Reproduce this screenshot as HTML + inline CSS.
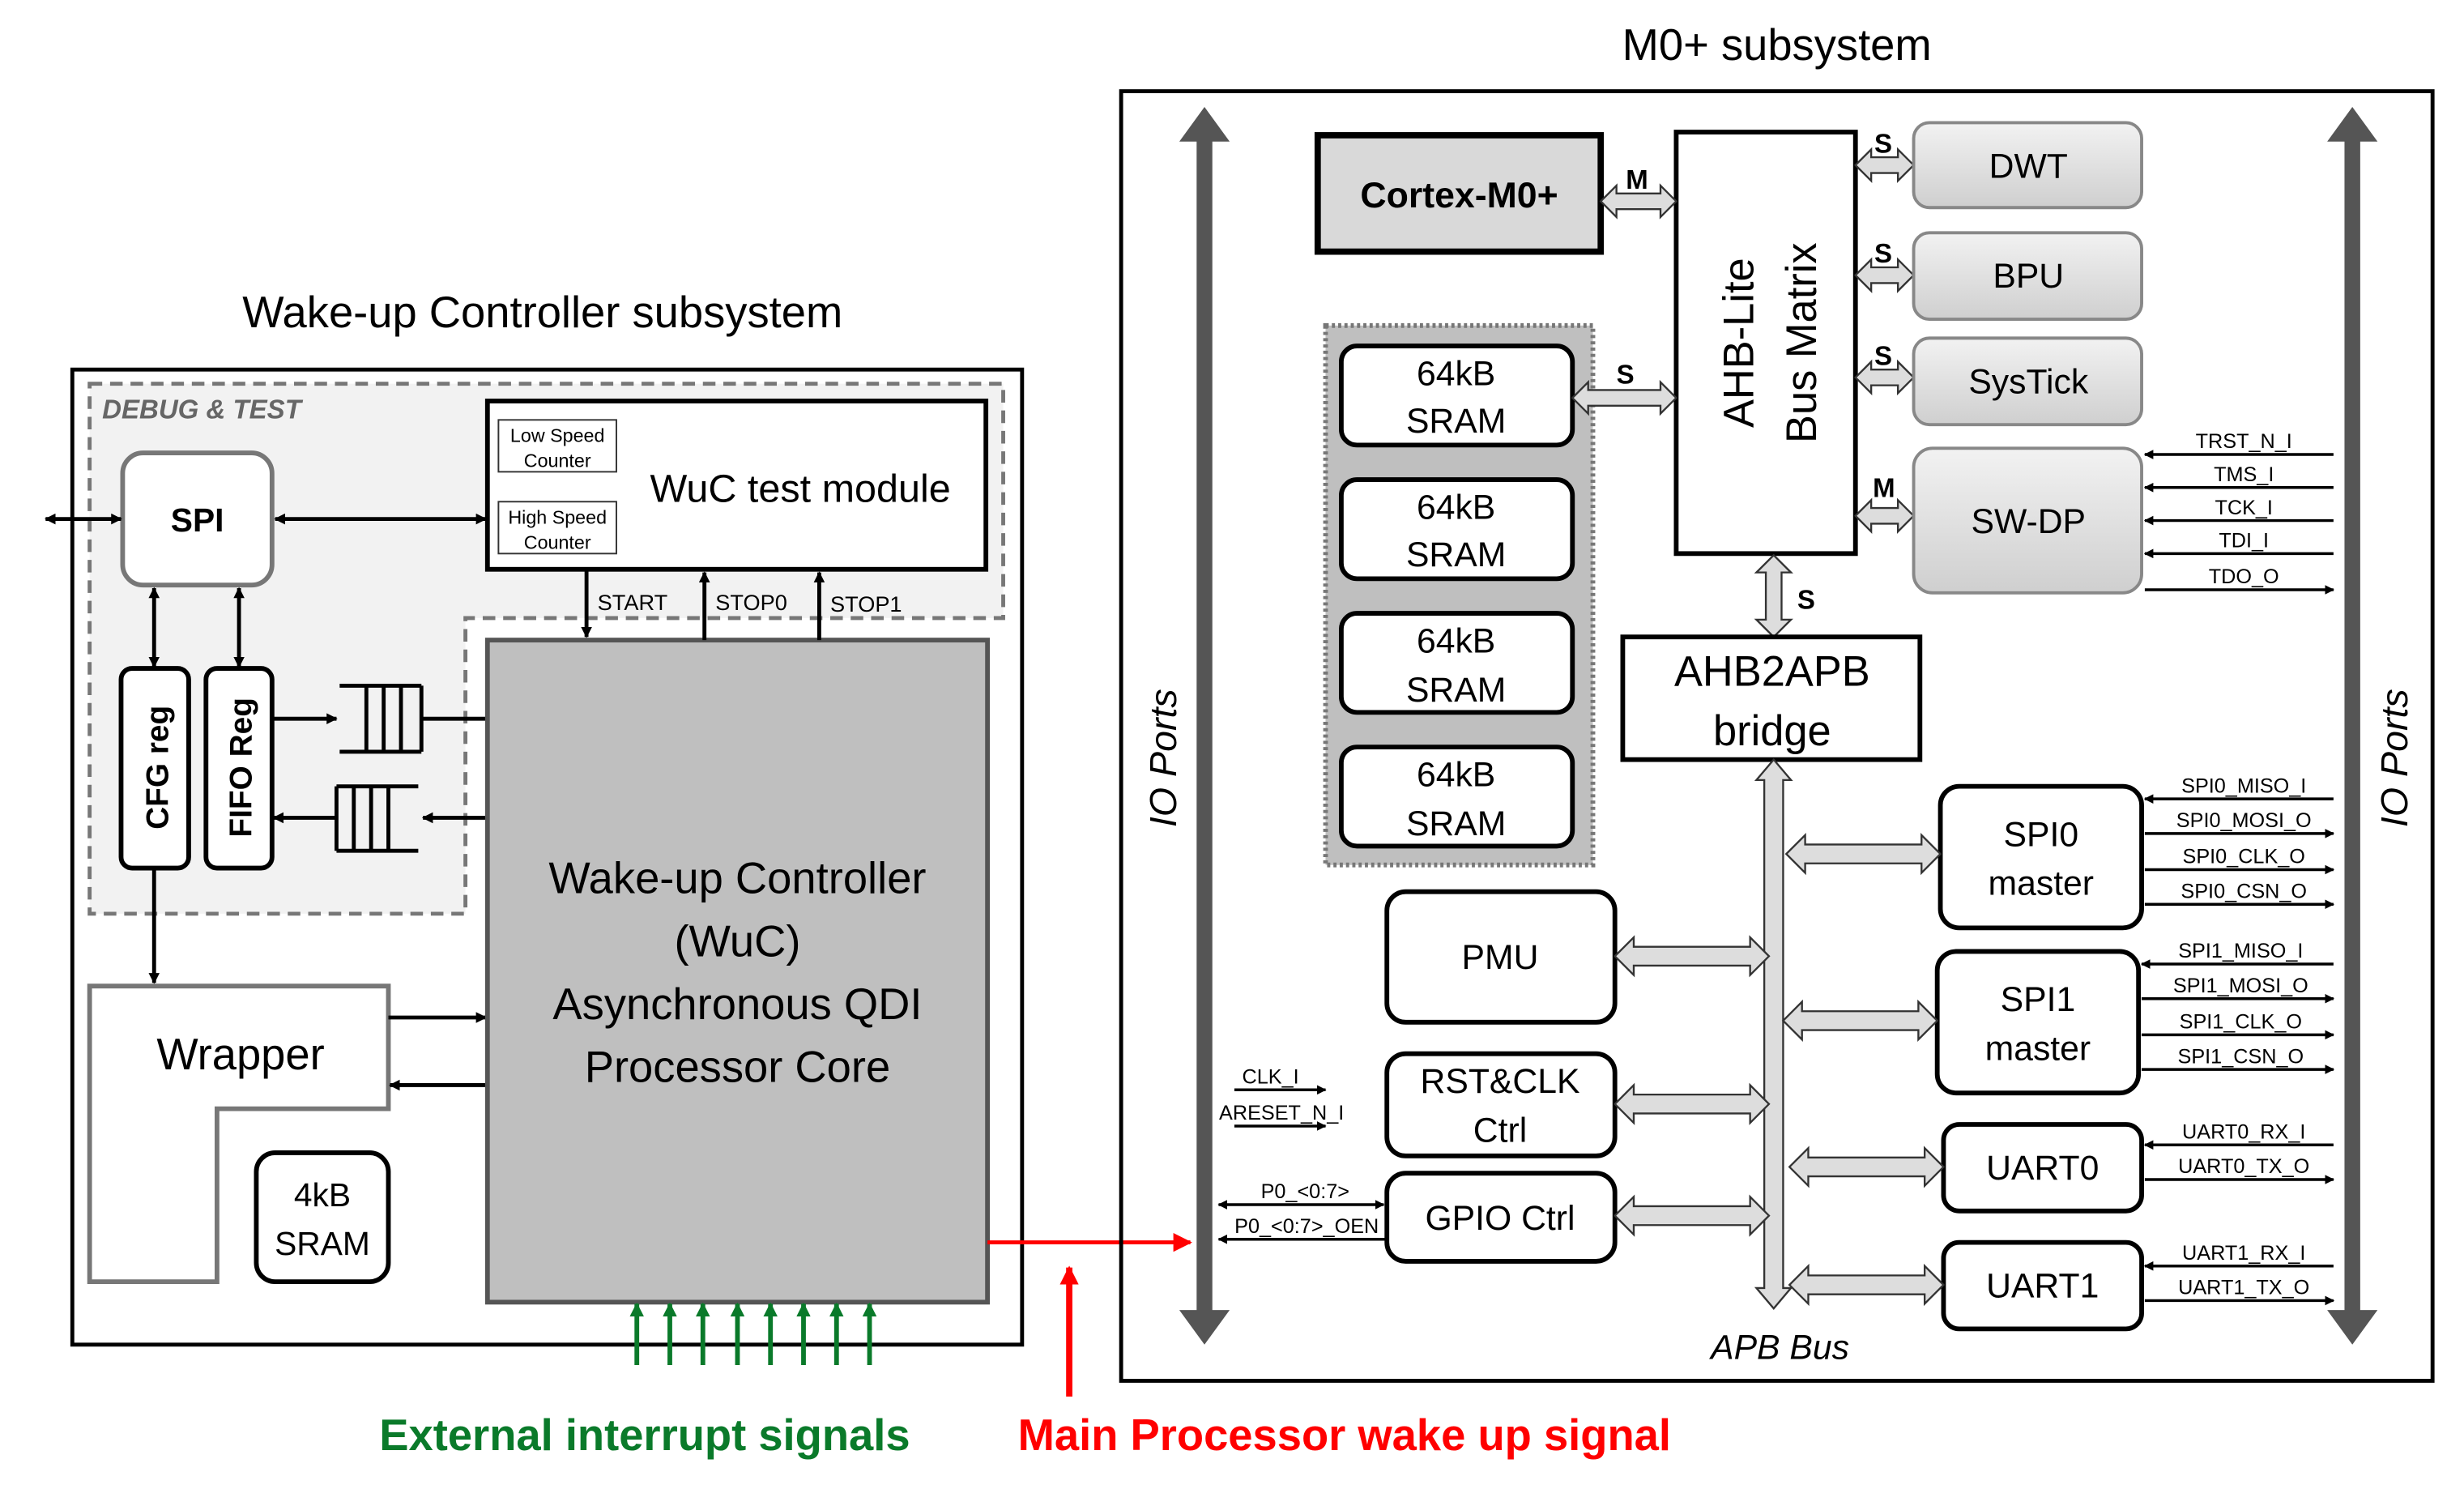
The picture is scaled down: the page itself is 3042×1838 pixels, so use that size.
<!DOCTYPE html>
<html><head><meta charset="utf-8"><style>
html,body{margin:0;padding:0;background:#fff;width:3042px;height:1838px;overflow:hidden}
svg{display:block}
text{font-family:"Liberation Sans",sans-serif}
</style></head><body>
<svg width="3042" height="1838" viewBox="0 0 1567 946.8" preserveAspectRatio="none" xmlns="http://www.w3.org/2000/svg">
<defs>
<marker id="ah" viewBox="0 0 10 10" refX="9" refY="5" markerWidth="7" markerHeight="7" markerUnits="userSpaceOnUse" orient="auto-start-reverse"><path d="M0,0 L10,5 L0,10 z" fill="#000"/></marker>
<marker id="ahs" viewBox="0 0 10 10" refX="9" refY="5" markerWidth="6" markerHeight="6" markerUnits="userSpaceOnUse" orient="auto-start-reverse"><path d="M0,0 L10,5 L0,10 z" fill="#000"/></marker>
<marker id="ahg" viewBox="0 0 10 10" refX="9" refY="5" markerWidth="9" markerHeight="9" markerUnits="userSpaceOnUse" orient="auto"><path d="M0,0 L10,5 L0,10 z" fill="#0a7a2a"/></marker>
<marker id="ahr" viewBox="0 0 10 10" refX="9" refY="5" markerWidth="12" markerHeight="12" markerUnits="userSpaceOnUse" orient="auto"><path d="M0,0 L10,5 L0,10 z" fill="#f00"/></marker>
<linearGradient id="gg" x1="0" y1="0" x2="0" y2="1"><stop offset="0" stop-color="#f2f2f2"/><stop offset="1" stop-color="#cfcfcf"/></linearGradient>
<polygon id="h37" points="0,0 10,-10 10,-5 27,-5 27,-10 37,0 27,10 27,5 10,5 10,10" fill="#ddd" stroke="#333" stroke-width="1.2"/>
<polygon id="h48" points="0,0 10,-10 10,-5 38,-5 38,-10 48,0 38,10 38,5 10,5 10,10" fill="#ddd" stroke="#333" stroke-width="1.2"/>
<polygon id="h66" points="0,0 10,-10 10,-5 56,-5 56,-10 66,0 56,10 56,5 10,5 10,10" fill="#ddd" stroke="#333" stroke-width="1.2"/>
<polygon id="h98" points="0,0 12,-12 12,-6 86,-6 86,-12 98,0 86,12 86,6 12,6 12,12" fill="#ddd" stroke="#333" stroke-width="1.2"/>
</defs>

<!-- LEFT -->
<text x="345" y="208" font-size="28" text-anchor="middle">Wake-up Controller subsystem</text>
<rect x="46" y="235" width="604" height="620" fill="none" stroke="#000" stroke-width="2.5"/>
<polygon points="57,244 638,244 638,393 296,393 296,581 57,581" fill="#f2f2f2" stroke="#777" stroke-width="2.5" stroke-dasharray="8,5"/>
<text x="65" y="266" font-size="17" font-style="italic" font-weight="bold" fill="#666">DEBUG &amp; TEST</text>
<rect x="310" y="255" width="317" height="107" fill="#fff" stroke="#000" stroke-width="3"/>
<rect x="317" y="267" width="75" height="33" fill="#fff" stroke="#333" stroke-width="1"/>
<text x="354.5" y="281" font-size="12" text-anchor="middle">Low Speed</text><text x="354.5" y="297" font-size="12" text-anchor="middle">Counter</text>
<rect x="317" y="319" width="75" height="33" fill="#fff" stroke="#333" stroke-width="1"/>
<text x="354.5" y="333" font-size="12" text-anchor="middle">High Speed</text><text x="354.5" y="349" font-size="12" text-anchor="middle">Counter</text>
<text x="509" y="319" font-size="25" text-anchor="middle">WuC test module</text>
<rect x="78" y="288" width="95" height="84" rx="13" fill="#fff" stroke="#777" stroke-width="3"/>
<text x="125.5" y="338" font-size="21" font-weight="bold" text-anchor="middle">SPI</text>
<line x1="29" y1="330" x2="77" y2="330" stroke="#000" stroke-width="2.5" marker-start="url(#ah)" marker-end="url(#ah)"/>
<line x1="175" y1="330" x2="309" y2="330" stroke="#000" stroke-width="2.5" marker-start="url(#ah)" marker-end="url(#ah)"/>
<line x1="98" y1="374" x2="98" y2="424" stroke="#000" stroke-width="2.5" marker-start="url(#ah)" marker-end="url(#ah)"/>
<line x1="152" y1="374" x2="152" y2="424" stroke="#000" stroke-width="2.5" marker-start="url(#ah)" marker-end="url(#ah)"/>
<rect x="77" y="425" width="43" height="127" rx="7" fill="#fff" stroke="#000" stroke-width="3"/>
<text transform="translate(107,488) rotate(-90)" font-size="20" font-weight="bold" text-anchor="middle">CFG reg</text>
<rect x="131" y="425" width="42" height="127" rx="7" fill="#fff" stroke="#000" stroke-width="3"/>
<text transform="translate(160,488) rotate(-90)" font-size="20" font-weight="bold" text-anchor="middle">FIFO Reg</text>
<g stroke="#000" stroke-width="2.5" fill="none">
<path d="M216,436 H268 M216,478 H268 M233,436 V478 M244,436 V478 M255,436 V478 M268,436 V478"/>
<path d="M214,500 H266 M214,541 H266 M214,500 V541 M225,500 V541 M236,500 V541 M247,500 V541"/>
</g>
<line x1="173" y1="457" x2="214" y2="457" stroke="#000" stroke-width="2.5" marker-end="url(#ah)"/>
<line x1="268" y1="457" x2="330" y2="457" stroke="#000" stroke-width="2.5" marker-end="url(#ah)"/>
<line x1="330" y1="520" x2="269" y2="520" stroke="#000" stroke-width="2.5" marker-end="url(#ah)"/>
<line x1="214" y1="520" x2="174" y2="520" stroke="#000" stroke-width="2.5" marker-end="url(#ah)"/>
<line x1="98" y1="552" x2="98" y2="625" stroke="#000" stroke-width="2.5" marker-end="url(#ah)"/>
<polygon points="57,627 247,627 247,705 138,705 138,815 57,815" fill="#fff" stroke="#777" stroke-width="3"/>
<text x="153" y="680" font-size="28" text-anchor="middle">Wrapper</text>
<line x1="247" y1="647" x2="309" y2="647" stroke="#000" stroke-width="2.5" marker-end="url(#ah)"/>
<line x1="310" y1="690" x2="248" y2="690" stroke="#000" stroke-width="2.5" marker-end="url(#ah)"/>
<rect x="163" y="733" width="84" height="82" rx="12" fill="#fff" stroke="#000" stroke-width="3"/>
<text x="205" y="767" font-size="21" text-anchor="middle">4kB</text><text x="205" y="798" font-size="21" text-anchor="middle">SRAM</text>
<rect x="310" y="407" width="318" height="421" fill="#bfbfbf" stroke="#555" stroke-width="3"/>
<g font-size="28" text-anchor="middle"><text x="469" y="568">Wake-up Controller</text><text x="469" y="608">(WuC)</text><text x="469" y="648">Asynchronous QDI</text><text x="469" y="688">Processor Core</text></g>
<line x1="373" y1="362" x2="373" y2="405" stroke="#000" stroke-width="2.5" marker-end="url(#ah)"/>
<line x1="448" y1="407" x2="448" y2="364" stroke="#000" stroke-width="2.5" marker-end="url(#ah)"/>
<line x1="521" y1="407" x2="521" y2="364" stroke="#000" stroke-width="2.5" marker-end="url(#ah)"/>
<g font-size="14"><text x="380" y="388">START</text><text x="455" y="388">STOP0</text><text x="528" y="389">STOP1</text></g>
<g stroke="#0a7a2a" stroke-width="3">
<line x1="405" y1="868" x2="405" y2="829" marker-end="url(#ahg)"/><line x1="426" y1="868" x2="426" y2="829" marker-end="url(#ahg)"/>
<line x1="447" y1="868" x2="447" y2="829" marker-end="url(#ahg)"/><line x1="469" y1="868" x2="469" y2="829" marker-end="url(#ahg)"/>
<line x1="490" y1="868" x2="490" y2="829" marker-end="url(#ahg)"/><line x1="511" y1="868" x2="511" y2="829" marker-end="url(#ahg)"/>
<line x1="532" y1="868" x2="532" y2="829" marker-end="url(#ahg)"/><line x1="553" y1="868" x2="553" y2="829" marker-end="url(#ahg)"/>
</g>
<text x="410" y="922" font-size="28" font-weight="bold" fill="#0a7a2a" text-anchor="middle">External interrupt signals</text>
<line x1="628" y1="790" x2="757" y2="790" stroke="#f00" stroke-width="2.5" marker-end="url(#ahr)"/>
<line x1="680" y1="888" x2="680" y2="806" stroke="#f00" stroke-width="4" marker-end="url(#ahr)"/>
<text x="855" y="922" font-size="28" font-weight="bold" fill="#f00" text-anchor="middle">Main Processor wake up signal</text>

<!-- RIGHT -->
<text x="1130" y="38" font-size="28" text-anchor="middle">M0+ subsystem</text>
<rect x="713" y="58" width="834" height="820" fill="none" stroke="#000" stroke-width="2.5"/>
<polygon points="766,68 782,90 771,90 771,833 782,833 766,855 750,833 761,833 761,90 750,90" fill="#555"/>
<polygon points="1496,68 1512,90 1501,90 1501,833 1512,833 1496,855 1480,833 1491,833 1491,90 1480,90" fill="#555"/>
<text transform="translate(748,482) rotate(-90)" font-size="24" font-style="italic" text-anchor="middle">IO Ports</text>
<text transform="translate(1531,482) rotate(-90)" font-size="24" font-style="italic" text-anchor="middle">IO Ports</text>
<rect x="838" y="86" width="180" height="74" fill="#d9d9d9" stroke="#000" stroke-width="4"/>
<text x="928" y="132" font-size="23" font-weight="bold" text-anchor="middle">Cortex-M0+</text>
<rect x="1066" y="84" width="114" height="268" fill="#fff" stroke="#000" stroke-width="3"/>
<text transform="translate(1115,218) rotate(-90)" font-size="27" text-anchor="middle">AHB-Lite</text>
<text transform="translate(1155,218) rotate(-90)" font-size="27" text-anchor="middle">Bus Matrix</text>
<use href="#h48" x="1018" y="128"/>
<g font-size="17" font-weight="bold"><text x="1034" y="120">M</text><text x="1192" y="97">S</text><text x="1192" y="167">S</text><text x="1192" y="232">S</text><text x="1191" y="316">M</text><text x="1028" y="244">S</text><text x="1143" y="387">S</text></g>
<use href="#h37" x="1180" y="105"/><use href="#h37" x="1180" y="175"/><use href="#h37" x="1180" y="240"/><use href="#h37" x="1180" y="328"/>
<g stroke="#888" stroke-width="2" fill="url(#gg)">
<rect x="1217" y="78" width="145" height="54" rx="10"/><rect x="1217" y="148" width="145" height="55" rx="10"/>
<rect x="1217" y="215" width="145" height="55" rx="10"/><rect x="1217" y="285" width="145" height="92" rx="12"/>
</g>
<g font-size="22" text-anchor="middle"><text x="1290" y="113">DWT</text><text x="1290" y="183">BPU</text><text x="1290" y="250">SysTick</text><text x="1290" y="339">SW-DP</text></g>
<rect x="843" y="207" width="170" height="343" fill="#bfbfbf" stroke="#777" stroke-width="3" stroke-dasharray="2,2"/>
<g fill="#fff" stroke="#000" stroke-width="3">
<rect x="853" y="220" width="147" height="63" rx="10"/><rect x="853" y="305" width="147" height="63" rx="10"/>
<rect x="853" y="390" width="147" height="63" rx="10"/><rect x="853" y="475" width="147" height="63" rx="10"/>
</g>
<g font-size="22" text-anchor="middle">
<text x="926" y="245">64kB</text><text x="926" y="275">SRAM</text><text x="926" y="330">64kB</text><text x="926" y="360">SRAM</text>
<text x="926" y="415">64kB</text><text x="926" y="446">SRAM</text><text x="926" y="500">64kB</text><text x="926" y="531">SRAM</text>
</g>
<use href="#h66" x="1000" y="253"/>
<polygon points="1128,353 1139,364 1133,364 1133,394 1139,394 1128,405 1117,394 1123,394 1123,364 1117,364" fill="#ddd" stroke="#333" stroke-width="1.2"/>
<rect x="1032" y="405" width="189" height="78" fill="#fff" stroke="#000" stroke-width="3"/>
<text x="1127" y="436" font-size="27" text-anchor="middle">AHB2APB</text><text x="1127" y="474" font-size="27" text-anchor="middle">bridge</text>
<polygon points="1128,483 1139,496 1134,496 1134,819 1139,819 1128,832 1117,819 1122,819 1122,496 1117,496" fill="#ddd" stroke="#333" stroke-width="1.2"/>
<text x="1132" y="864" font-size="22" font-style="italic" text-anchor="middle">APB Bus</text>
<g fill="#fff" stroke="#000" stroke-width="3">
<rect x="882" y="567" width="145" height="83" rx="12"/><rect x="882" y="670" width="145" height="65" rx="12"/><rect x="882" y="746" width="145" height="56" rx="12"/>
<rect x="1234" y="500" width="128" height="90" rx="12"/><rect x="1232" y="605" width="128" height="90" rx="12"/>
<rect x="1236" y="715" width="126" height="55" rx="10"/><rect x="1236" y="790" width="126" height="55" rx="10"/>
</g>
<g font-size="22" text-anchor="middle">
<text x="954" y="616">PMU</text><text x="954" y="695">RST&amp;CLK</text><text x="954" y="726">Ctrl</text><text x="954" y="782">GPIO Ctrl</text>
<text x="1298" y="538">SPI0</text><text x="1298" y="569">master</text><text x="1296" y="643">SPI1</text><text x="1296" y="674">master</text>
<text x="1299" y="750">UART0</text><text x="1299" y="825">UART1</text>
</g>
<use href="#h98" x="1027" y="608"/><use href="#h98" x="1027" y="702"/><use href="#h98" x="1027" y="773"/>
<use href="#h98" x="1136" y="543"/><use href="#h98" x="1134" y="649"/><use href="#h98" x="1138" y="742"/><use href="#h98" x="1138" y="817"/>
<g stroke="#000" stroke-width="1.8">
<line x1="1484" y1="289" x2="1364" y2="289" marker-end="url(#ahs)"/><line x1="1484" y1="310" x2="1364" y2="310" marker-end="url(#ahs)"/>
<line x1="1484" y1="331" x2="1364" y2="331" marker-end="url(#ahs)"/><line x1="1484" y1="352" x2="1364" y2="352" marker-end="url(#ahs)"/>
<line x1="1364" y1="375" x2="1484" y2="375" marker-end="url(#ahs)"/>
<line x1="1484" y1="508" x2="1364" y2="508" marker-end="url(#ahs)"/><line x1="1364" y1="530" x2="1484" y2="530" marker-end="url(#ahs)"/>
<line x1="1364" y1="553" x2="1484" y2="553" marker-end="url(#ahs)"/><line x1="1364" y1="575" x2="1484" y2="575" marker-end="url(#ahs)"/>
<line x1="1484" y1="613" x2="1362" y2="613" marker-end="url(#ahs)"/><line x1="1362" y1="635" x2="1484" y2="635" marker-end="url(#ahs)"/>
<line x1="1362" y1="658" x2="1484" y2="658" marker-end="url(#ahs)"/><line x1="1362" y1="680" x2="1484" y2="680" marker-end="url(#ahs)"/>
<line x1="1484" y1="728" x2="1364" y2="728" marker-end="url(#ahs)"/><line x1="1364" y1="750" x2="1484" y2="750" marker-end="url(#ahs)"/>
<line x1="1484" y1="805" x2="1364" y2="805" marker-end="url(#ahs)"/><line x1="1364" y1="827" x2="1484" y2="827" marker-end="url(#ahs)"/>
<line x1="785" y1="693" x2="843" y2="693" marker-end="url(#ahs)"/><line x1="785" y1="716" x2="843" y2="716" marker-end="url(#ahs)"/>
<line x1="775" y1="766" x2="880" y2="766" marker-start="url(#ahs)" marker-end="url(#ahs)"/>
<line x1="882" y1="788" x2="775" y2="788" marker-end="url(#ahs)"/>
</g>
<g font-size="13" text-anchor="middle">
<text x="1427" y="285">TRST_N_I</text><text x="1427" y="306">TMS_I</text><text x="1427" y="327">TCK_I</text><text x="1427" y="348">TDI_I</text><text x="1427" y="371">TDO_O</text>
<text x="1427" y="504">SPI0_MISO_I</text><text x="1427" y="526">SPI0_MOSI_O</text><text x="1427" y="549">SPI0_CLK_O</text><text x="1427" y="571">SPI0_CSN_O</text>
<text x="1425" y="609">SPI1_MISO_I</text><text x="1425" y="631">SPI1_MOSI_O</text><text x="1425" y="654">SPI1_CLK_O</text><text x="1425" y="676">SPI1_CSN_O</text>
<text x="1427" y="724">UART0_RX_I</text><text x="1427" y="746">UART0_TX_O</text>
<text x="1427" y="801">UART1_RX_I</text><text x="1427" y="823">UART1_TX_O</text>
<text x="808" y="689">CLK_I</text><text x="815" y="712">ARESET_N_I</text><text x="830" y="762">P0_&lt;0:7&gt;</text><text x="831" y="784">P0_&lt;0:7&gt;_OEN</text>
</g>
</svg>
</body></html>
